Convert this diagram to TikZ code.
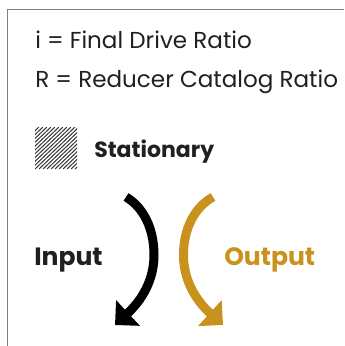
\documentclass[tikz,border=0pt]{standalone}
\usepackage{fontspec}
\setmainfont{Poppins}
\usetikzlibrary{arrows.meta}
\definecolor{txt}{HTML}{231F20}
\definecolor{gold}{RGB}{200,146,28}
\definecolor{frame}{HTML}{808080}
\tikzset{
  lbl/.style={anchor=base west, inner sep=0pt, text=txt, font=\fontsize{17.3}{20}\selectfont},
  blbl/.style={lbl, font=\fontsize{16.5}{20}\selectfont\bfseries},
  biglbl/.style={lbl, font=\fontsize{18.8}{22}\selectfont\bfseries},
  curvearrow/.style={line width=6.75pt, -{Triangle[width=25.5pt,length=13.3pt]}},
}
\begin{document}
\begin{tikzpicture}[x=0.75pt,y=-0.75pt]
\useasboundingbox (0,0) rectangle (344,346);
% frame
\draw[frame, line width=1.1pt] (7.5,346) -- (7.5,9.5) -- (344,9.5);
% texts
\node[lbl] (l1) at (35,49) {i = Final Drive Ratio};
\node[lbl] (l2) at (35,88) {R = Reducer Catalog Ratio};
% hatch
\begin{scope}
\clip (35,127) rectangle (77,169);
\foreach \k in {0,4,...,88} {
  \draw[txt!90, line width=0.75pt] (35+\k-44,169) -- (35+\k,127);
}
\end{scope}
\node[blbl] (st) at (94,157) {Stationary};
\node[biglbl] (in) at (34,265.5) {Input};
\node[biglbl, text=gold] (out) at (224,265.5) {Output};
% arrows
\coordinate (bs) at (126,197);
\coordinate (bm) at (154,255);
\coordinate (be) at (115,325);
\draw[curvearrow, black] (bs) .. controls (143,207) and (154,228) .. (bm)
  .. controls (154,280) and (142,300) .. (be);
\coordinate (gs) at (213,197);
\coordinate (gm) at (183.5,255);
\coordinate (ge) at (223,325);
\draw[curvearrow, gold] (gs) .. controls (195,207) and (183.5,228) .. (gm)
  .. controls (183.5,280) and (195.5,300) .. (ge);
\end{tikzpicture}
\end{document}
